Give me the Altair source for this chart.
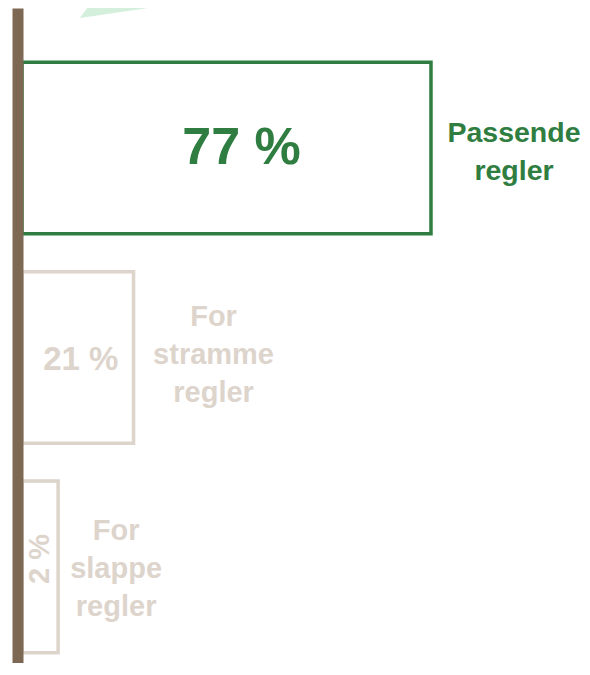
import altair as alt
import pandas as pd

# ---- data ----
categories = ["Passende regler", "For stramme regler", "For slappe regler"]
values = [77, 21, 2]
value_labels = ["77 %", "21 %", "2 %"]
category_labels = ["Passende\nregler", "For\nstramme\nregler", "For\nslappe\nregler"]

GREEN = "#2f7d40"
BEIGE = "#ddd4cc"
BROWN = "#7d6854"
TRI = "#d4efdc"
FONT = "Liberation Sans"

df = pd.DataFrame({
    "cat": categories,
    "value": values,
    "vlabel": value_labels,
    "clabel": category_labels,
})

yscale = alt.Scale(domain=categories, paddingInner=0.181, paddingOuter=0.154, align=0.84)
xscale = alt.Scale(domain=[-2.636, 105.43], zero=False, nice=False)

base = alt.Chart(df).transform_calculate(
    shown="max(datum.value, 6.8)"
).transform_calculate(
    mid="datum.shown / 2"
).encode(
    y=alt.Y("cat:N", sort=categories, scale=yscale,
            axis=alt.Axis(labels=False, ticks=False, title=None, grid=False,
                          domainColor=BROWN, domainWidth=11, domainCap="butt",
                          offset=-9.5, zindex=1))
)

bars = base.mark_bar(fill="white", strokeWidth=3.5, strokeJoin="miter").encode(
    x=alt.X("shown:Q", scale=xscale, axis=None),
    x2=alt.datum(0),
    stroke=alt.Stroke("cat:N", scale=alt.Scale(domain=categories, range=[GREEN, BEIGE, BEIGE]), legend=None),
)

# decorative wedge at top
tri = alt.Chart(pd.DataFrame({"k": [0]})).mark_point(
    shape="M-1,0.146L-0.789,-0.146L1,-0.146Z", filled=True, fill=TRI, opacity=1, strokeWidth=0
).encode(x=alt.value(133.5), y=alt.value(1), size=alt.value(15129))

def vtext(cat, size, color, dx=0, dy=0, angle=0):
    return base.transform_filter(alt.datum.cat == cat).mark_text(
        font=FONT, fontWeight="bold", fontSize=size, color=color, dx=dx, dy=dy, angle=angle,
        align="center", baseline="middle"
    ).encode(x=alt.X("mid:Q", scale=xscale, axis=None), text="vlabel:N")

def ctext(cat, color, dx, dy=0, size=29):
    return base.transform_filter(alt.datum.cat == cat).mark_text(
        font=FONT, fontWeight="bold", fontSize=size, color=color, dx=dx, dy=dy,
        align="center", baseline="middle", lineBreak="\n", lineHeight=38
    ).encode(x=alt.X("shown:Q", scale=xscale, axis=None), text="clabel:N")

layers = [
    tri, bars,
    vtext(categories[0], 52, GREEN, dx=15),
    vtext(categories[1], 33, BEIGE, dx=3, dy=3),
    vtext(categories[2], 29, BEIGE, dx=8, angle=270),
    ctext(categories[0], GREEN, dx=83, dy=-15, size=28.5),
    ctext(categories[1], BEIGE, dx=80, dy=-40),
    ctext(categories[2], BEIGE, dx=58, dy=-36),
]

chart = alt.layer(*layers).properties(
    width=574, height=655, padding=0,
    autosize=alt.AutoSizeParams(type="none"),
    background="white",
).configure_view(stroke=None)

chart.save("out.html", embed_options={"renderer": "svg", "actions": False})
